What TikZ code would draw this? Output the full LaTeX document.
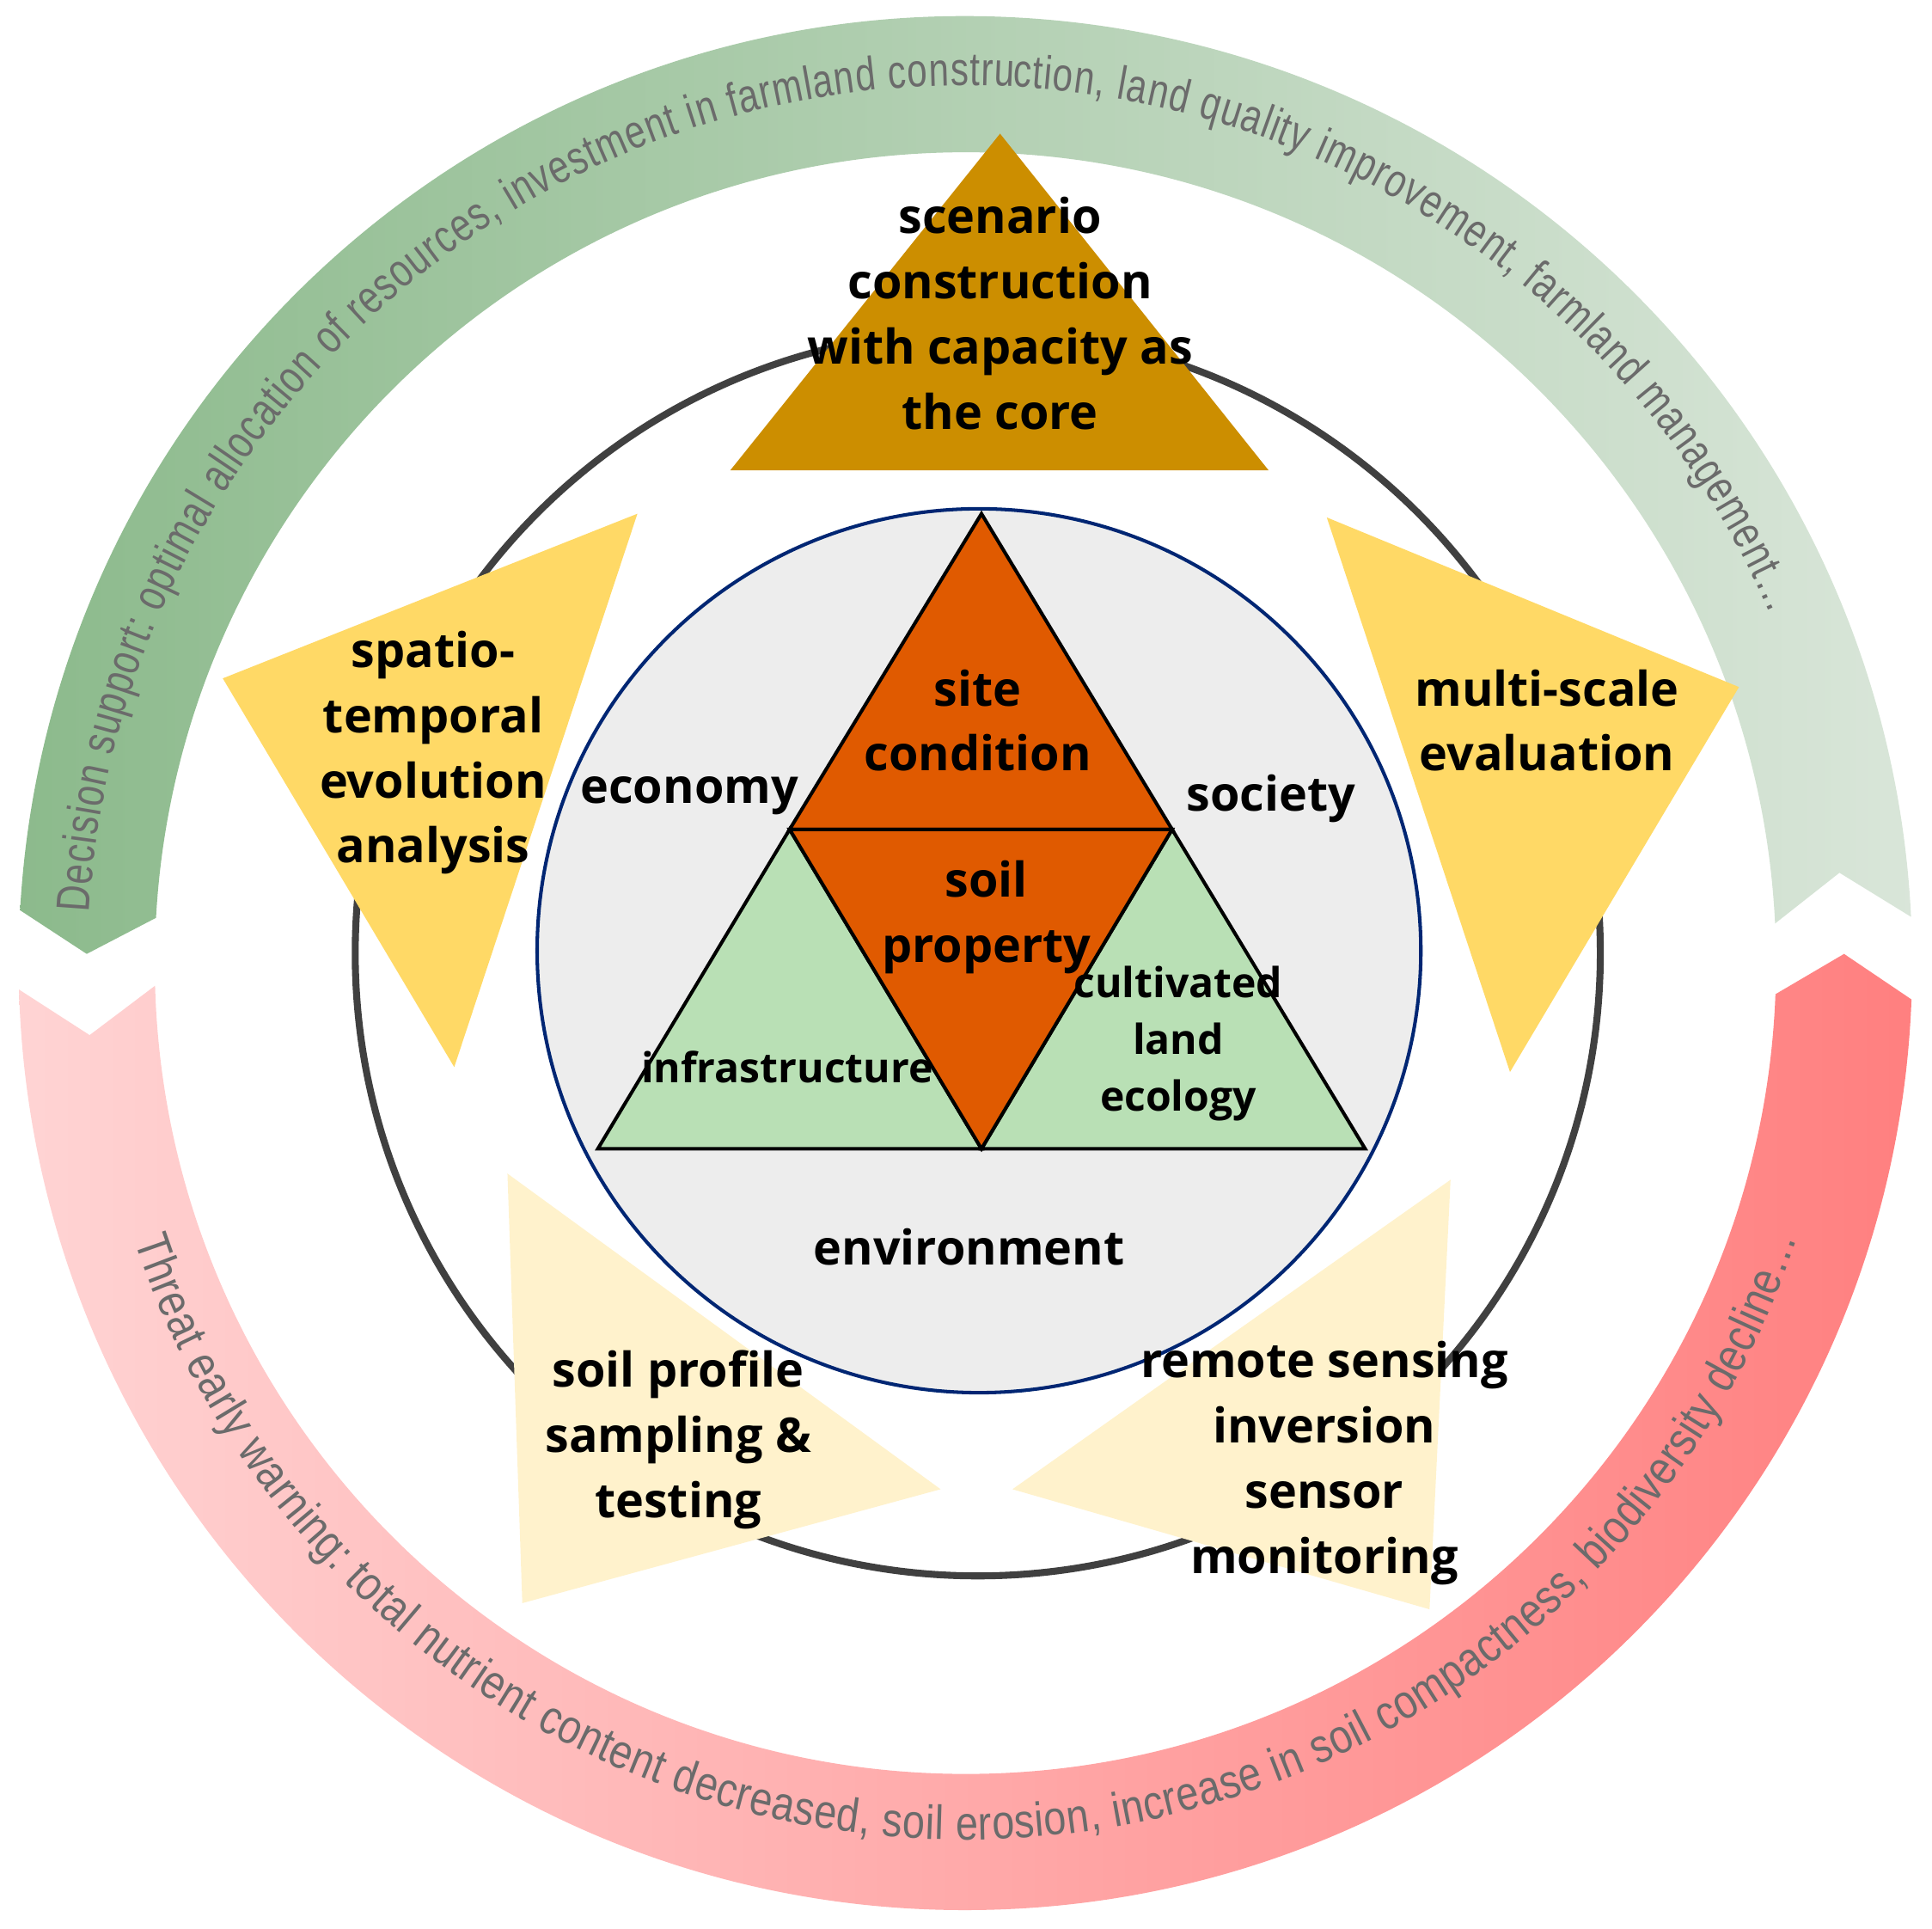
\documentclass[tikz,border=0pt]{standalone}
\usepackage{fontspec}
\setmainfont{Open Sans}
\newfontfamily\arcfam[FakeStretch=0.84]{Liberation Sans}
\newfontfamily\arcfamg[FakeStretch=0.77]{Liberation Sans}
\usetikzlibrary{decorations.text}
\definecolor{gA}{rgb}{0.55,0.73,0.55}
\definecolor{gB}{rgb}{0.85,0.90,0.85}
\definecolor{rA}{rgb}{1,0.83,0.83}
\definecolor{rB}{rgb}{1,0.50,0.50}
\definecolor{arcgray}{rgb}{0.42,0.42,0.42}
\definecolor{topc}{HTML}{CC8E00}
\definecolor{yel}{HTML}{FFD966}
\definecolor{lyel}{HTML}{FFF2CC}
\definecolor{orng}{HTML}{E05A00}
\definecolor{lgrn}{HTML}{B9E0B5}
\definecolor{navy}{rgb}{0,0.15,0.45}
\newcommand{\arcfnt}{\fontsize{11}{12}\arcfam}
\newcommand{\arcfntg}{\fontsize{10.8}{12}\arcfamg}
\begin{document}
\begin{tikzpicture}[x=0.01cm,y=0.01cm,
  lbl/.style={font=\fontsize{11}{15}\selectfont\bfseries, align=center, text=black, inner sep=0},
  slbl/.style={font=\fontsize{9.5}{13}\selectfont\bfseries, align=center, text=black, inner sep=0},
  tri/.style={draw=black, line width=0.8pt}]
\useasboundingbox (0,0) rectangle (1561,1558);
% rings
\begin{scope}[shift={(780,780)}]
\shade[left color=gA, right color=gB]
  (176.8:765) arc (176.8:2.8:765) -- (5.9:710) -- (2.8:655) arc (2.8:176.8:655) -- (179.4:710) -- cycle;
\shade[left color=rA, right color=rB]
  (181.6:765) arc (181.6:357.8:765) -- (0.6:710) -- (357.8:655) arc (357.8:181.6:655) -- (184.7:710) -- cycle;
\path[decorate, decoration={text along path, text align={fit to path},
  text={|\arcfntg\color{arcgray}|Decision support: optimal allocation of resources, investment in farmland construction, land quality improvement, farmland management…}}]
  (176.7:709) arc (176.7:23.5:709);
\path[decorate, decoration={text along path, text align={fit to path},
  text={|\arcfnt\color{arcgray}|Threat early warning: total nutrient content decreased, soil erosion, increase in soil compactness, biodiversity decline…}}]
  (198.5:708) arc (198.5:341.5:708);
\end{scope}
% circles
\draw[line width=1.6pt, black!75] (790,788) circle (503);
\draw[navy, line width=0.8pt, fill=black!7] (791,790) circle (357);
% outer triangles
\fill[topc] (808,1450) -- (590,1178) -- (1025,1178) -- cycle;
\fill[yel] (180,1010) -- (515,1143) -- (367,696) -- cycle;
\fill[yel] (1072,1140) -- (1405,1003) -- (1220,692) -- cycle;
\fill[lyel] (410,610) -- (760,355) -- (422,263) -- cycle;
\fill[lyel] (1172,605) -- (818,355) -- (1155,258) -- cycle;
% central triangles
\coordinate (ap) at (793,1143);
\coordinate (bl) at (483,630);
\coordinate (br) at (1103,630);
\coordinate (ml) at (638,888);
\coordinate (mr) at (947,888);
\coordinate (bm) at (793,630);
\draw[tri, fill=lgrn] (ml) -- (bl) -- (bm) -- cycle;
\draw[tri, fill=lgrn] (mr) -- (bm) -- (br) -- cycle;
\draw[tri, fill=orng] (ap) -- (ml) -- (mr) -- cycle;
\draw[tri, fill=orng] (ml) -- (mr) -- (bm) -- cycle;
% labels
\node[lbl] (t1) at (808,1305) {scenario\\construction\\with capacity as\\the core};
\node[lbl] (t2) at (350,950) {spatio-\\temporal\\evolution\\analysis};
\node[lbl] (t3) at (1250,976) {multi-scale\\evaluation};
\node[lbl] (t4) at (548,395) {soil profile\\sampling \&\\testing};
\node[lbl] (t5) at (1070,376) {remote sensing\\inversion\\sensor\\monitoring};
\node[lbl] (sc) at (790,976) {site\\condition};
\node[lbl] (sp) at (797,817) {soil\\property};
\node[slbl] (cl) at (952,715) {cultivated\\land\\ecology};
\node[slbl] (inf) at (636,696) {infrastructure};
\node[lbl] (ec) at (557,915) {economy};
\node[lbl] (so) at (1027,913) {society};
\node[lbl] (en) at (783,551) {environment};
\end{tikzpicture}
\end{document}
